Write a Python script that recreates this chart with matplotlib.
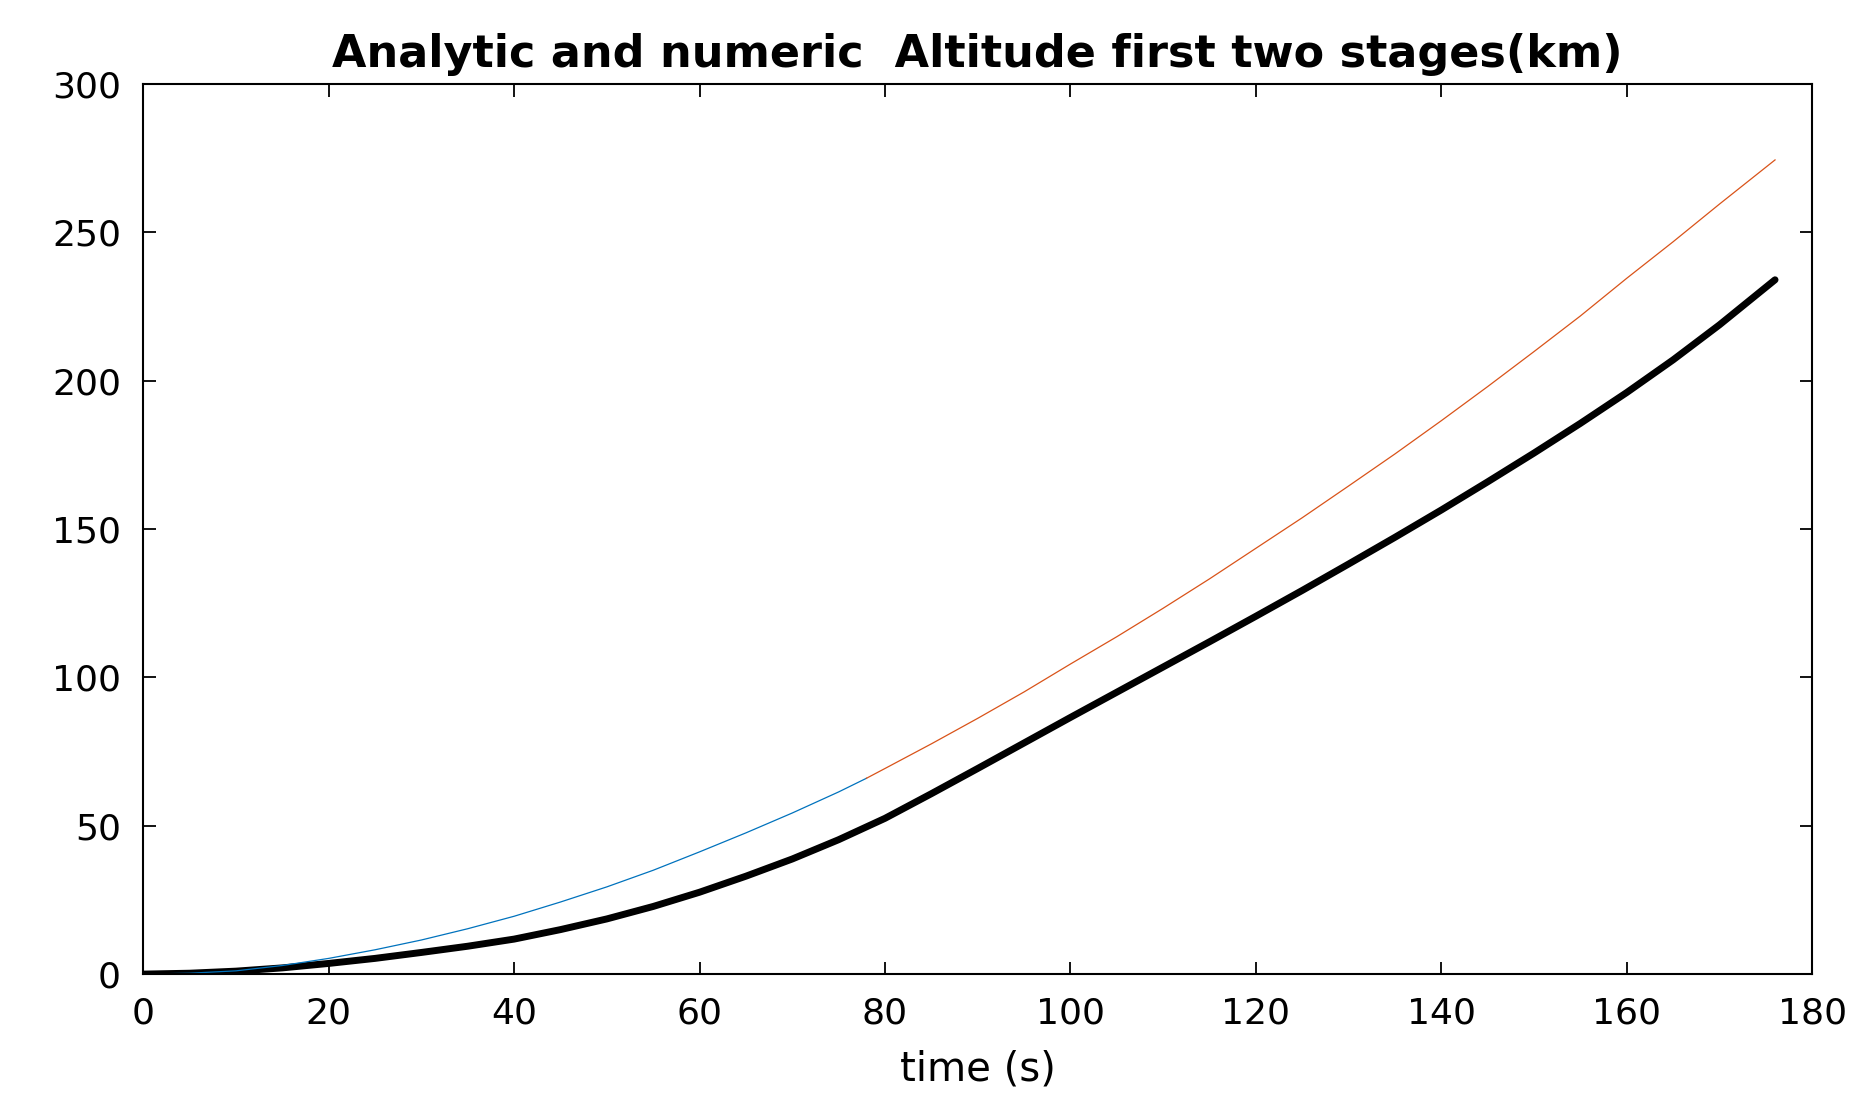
import numpy as np
import matplotlib.pyplot as plt

plt.rcParams['font.family'] = ['DejaVu Sans']

# analytic altitude, first stage (km)
t1 = [0, 5, 10, 15, 20, 25, 30, 35, 40, 45, 50, 55, 60, 65, 70, 75, 78]
h1 = [0, 0.3, 1.1, 2.9, 5.3, 8.2, 11.5, 15.3, 19.5, 24.3, 29.4, 35, 41.2, 47.6, 54.3, 61.4, 66]

# analytic altitude, second stage (km)
t2 = [78, 80, 85, 90, 95, 100, 105, 110, 115, 120, 125, 130, 135, 140, 145, 150,
      155, 160, 165, 170, 176]
h2 = [66, 69.3, 77.6, 86.2, 95.1, 104.5, 113.7, 123.3, 133.2, 143.5, 153.8, 164.5,
      175.3, 186.5, 198, 209.8, 221.8, 234.5, 246.8, 259.5, 274.4]

# numeric altitude (km)
tn = [0, 5, 10, 15, 20, 25, 30, 35, 40, 45, 50, 55, 60, 65, 70, 75, 80, 85, 90, 95,
      100, 105, 110, 115, 120, 125, 130, 135, 140, 145, 150, 155, 160, 165, 170, 176]
hn = [0, 0.3, 1.0, 2.1, 3.6, 5.3, 7.3, 9.4, 11.8, 15, 18.6, 22.8, 27.6, 33, 38.8, 45.3,
      52.5, 60.8, 69.3, 77.9, 86.5, 95, 103.5, 112, 120.6, 129.3, 138.2, 147.2, 156.4,
      165.9, 175.6, 185.6, 196, 207, 218.8, 234]

fig = plt.figure(figsize=(18.73, 11.12), dpi=100)
ax = fig.add_axes([0.0765, 0.124, 0.891, 0.8005])

ax.plot(tn, hn, color='black', linewidth=5, solid_capstyle='round', solid_joinstyle='round')
ax.plot(t1, h1, color='#0072BD', linewidth=0.9)
ax.plot(t2, h2, color='#D95319', linewidth=0.9)

ax.set_xlim(0, 180)
ax.set_ylim(0, 300)
ax.set_xticks(np.arange(0, 181, 20))
ax.set_yticks(np.arange(0, 301, 50))
ax.tick_params(direction='in', length=9, width=1.3, top=True, right=True,
               labelsize=26, pad=16, colors='black')
for s in ax.spines.values():
    s.set_linewidth(1.5)

ax.set_title('Analytic and numeric  Altitude first two stages(km)',
             fontsize=32, fontweight='bold', pad=12)
ax.set_xlabel('time (s)', fontsize=29, labelpad=14)

fig.savefig('out.png', dpi=100)
